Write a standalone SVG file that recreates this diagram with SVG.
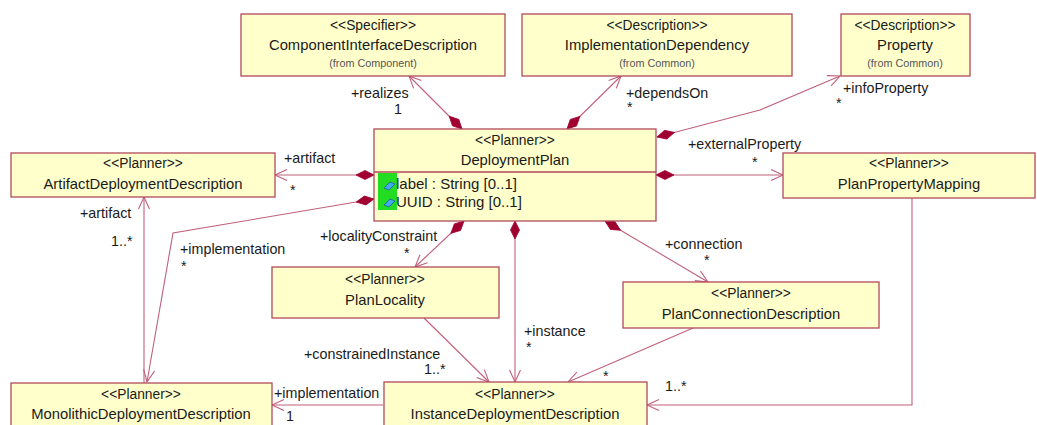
<svg xmlns="http://www.w3.org/2000/svg" width="1037" height="425" viewBox="0 0 1037 425">
<defs>
<style>
.box{fill:#ffffcc;stroke:#b04a5a;stroke-width:1.3}
.t{font-family:"Liberation Sans",Arial,sans-serif;fill:#1a1a1a;text-anchor:middle}
.st{font-size:13.8px}
.nm{font-size:14.8px}
.fr{font-size:10.8px;fill:#555}
.lb{font-family:"Liberation Sans",Arial,sans-serif;font-size:14.3px;fill:#1a1a1a}
.at{font-size:15px}
.c{fill:none;stroke:#c0607a;stroke-width:1.1}
.comp{marker-start:url(#dia);marker-end:url(#arr)}
.nav{marker-end:url(#arr)}
</style>
<marker id="dia" markerUnits="userSpaceOnUse" markerWidth="20" markerHeight="12" refX="0" refY="5" orient="auto" viewBox="0 0 20 10" overflow="visible">
<path d="M0,5 L9,0.5 L18,5 L9,9.5 z" fill="#a00030" stroke="#a00030" stroke-width="0.8"/>
</marker>
<marker id="arr" markerUnits="userSpaceOnUse" markerWidth="14" markerHeight="12" refX="12" refY="6" orient="auto" viewBox="0 0 14 12" overflow="visible">
<path d="M0,0.5 L12,6 L0,11.5" fill="none" stroke="#c0607a" stroke-width="1.1"/>
</marker>
</defs>
<rect width="1037" height="425" fill="#ffffff"/>

<g id="connectors">
<path class="c comp" d="M462,129 L409,76"/>
<path class="c comp" d="M567,129 L621,76"/>
<path class="c comp" d="M657,137 L760,110 L840,76"/>
<path class="c comp" d="M656,175 L783,175"/>
<path class="c comp" d="M374,175 L275,175"/>
<path class="c comp" d="M374,199 L173,233 L147,382"/>
<path class="c comp" d="M464,221 L415,267"/>
<path class="c comp" d="M515,221 L515,382"/>
<path class="c comp" d="M605,221 L708,282"/>
<path class="c nav" d="M144,383 L144,197"/>
<path class="c nav" d="M424,318 L489,382"/>
<path class="c nav" d="M693,328 L568,382"/>
<path class="c nav" d="M912,198 L912,405 L647,405"/>
<path class="c nav" d="M383,405 L272,405"/>
<text class="lb" x="351" y="98">+realizes</text>
<text class="lb" x="394" y="114">1</text>
<text class="lb" x="626" y="98">+dependsOn</text>
<text class="lb" x="627" y="112">*</text>
<text class="lb" x="843" y="93">+infoProperty</text>
<text class="lb" x="836" y="108">*</text>
<text class="lb" x="688" y="149">+externalProperty</text>
<text class="lb" x="752" y="167">*</text>
<text class="lb" x="284" y="163">+artifact</text>
<text class="lb" x="290" y="195">*</text>
<text class="lb" x="80" y="218">+artifact</text>
<text class="lb" x="111" y="246">1..*</text>
<text class="lb" x="180" y="254">+implementation</text>
<text class="lb" x="181" y="271">*</text>
<text class="lb" x="320" y="241">+localityConstraint</text>
<text class="lb" x="404" y="258">*</text>
<text class="lb" x="665" y="249">+connection</text>
<text class="lb" x="704" y="265">*</text>
<text class="lb" x="524" y="336">+instance</text>
<text class="lb" x="526" y="352">*</text>
<text class="lb" x="304" y="359">+constrainedInstance</text>
<text class="lb" x="424" y="374">1..*</text>
<text class="lb" x="274" y="398">+implementation</text>
<text class="lb" x="286" y="421">1</text>
<text class="lb" x="603" y="381">*</text>
<text class="lb" x="665" y="391">1..*</text>
</g>

<g id="ComponentInterfaceDescription">
<rect class="box" x="241" y="14" width="264" height="62"/>
<text class="t st" x="373" y="30">&lt;&lt;Specifier&gt;&gt;</text>
<text class="t nm" x="373" y="50">ComponentInterfaceDescription</text>
<text class="t fr" x="373" y="67">(from Component)</text>
</g>

<g id="ImplementationDependency">
<rect class="box" x="522" y="14" width="270" height="62"/>
<text class="t st" x="657" y="30">&lt;&lt;Description&gt;&gt;</text>
<text class="t nm" x="657" y="50">ImplementationDependency</text>
<text class="t fr" x="657" y="67">(from Common)</text>
</g>

<g id="Property">
<rect class="box" x="841" y="14" width="129" height="62"/>
<text class="t st" x="905" y="30">&lt;&lt;Description&gt;&gt;</text>
<text class="t nm" x="905" y="50">Property</text>
<text class="t fr" x="905" y="67">(from Common)</text>
</g>

<g id="DeploymentPlan">
<rect class="box" x="374" y="129" width="282" height="92"/>
<line x1="374" y1="172" x2="656" y2="172" stroke="#b04a5a" stroke-width="1.3"/>
<text class="t st" x="515" y="145">&lt;&lt;Planner&gt;&gt;</text>
<text class="t nm" x="515" y="165">DeploymentPlan</text>
<rect x="378" y="173" width="19" height="37" fill="#22dd22"/>
<path d="M384,188 L390,182 L395,184 L389,190 z" fill="#44aaee" stroke="#1f5f9f" stroke-width="0.8"/>
<path d="M384,205 L390,199 L395,201 L389,207 z" fill="#44aaee" stroke="#1f5f9f" stroke-width="0.8"/>
<text class="lb at" x="396" y="189">label : String [0..1]</text>
<text class="lb at" x="396" y="207">UUID : String [0..1]</text>
</g>

<g id="ArtifactDeploymentDescription">
<rect class="box" x="11" y="153" width="264" height="44"/>
<text class="t st" x="143" y="168">&lt;&lt;Planner&gt;&gt;</text>
<text class="t nm" x="143" y="189">ArtifactDeploymentDescription</text>
</g>

<g id="PlanPropertyMapping">
<rect class="box" x="783" y="153" width="252" height="45"/>
<text class="t st" x="909" y="168">&lt;&lt;Planner&gt;&gt;</text>
<text class="t nm" x="909" y="189">PlanPropertyMapping</text>
</g>

<g id="PlanLocality">
<rect class="box" x="272" y="267" width="227" height="51"/>
<text class="t st" x="385" y="284">&lt;&lt;Planner&gt;&gt;</text>
<text class="t nm" x="385" y="305">PlanLocality</text>
</g>

<g id="PlanConnectionDescription">
<rect class="box" x="623" y="282" width="256" height="46"/>
<text class="t st" x="751" y="298">&lt;&lt;Planner&gt;&gt;</text>
<text class="t nm" x="751" y="319">PlanConnectionDescription</text>
</g>

<g id="MonolithicDeploymentDescription">
<rect class="box" x="11" y="383" width="261" height="50"/>
<text class="t st" x="141" y="399">&lt;&lt;Planner&gt;&gt;</text>
<text class="t nm" x="141" y="419">MonolithicDeploymentDescription</text>
</g>

<g id="InstanceDeploymentDescription">
<rect class="box" x="384" y="382" width="263" height="50"/>
<text class="t st" x="515" y="399">&lt;&lt;Planner&gt;&gt;</text>
<text class="t nm" x="515" y="419">InstanceDeploymentDescription</text>
</g>
</svg>
